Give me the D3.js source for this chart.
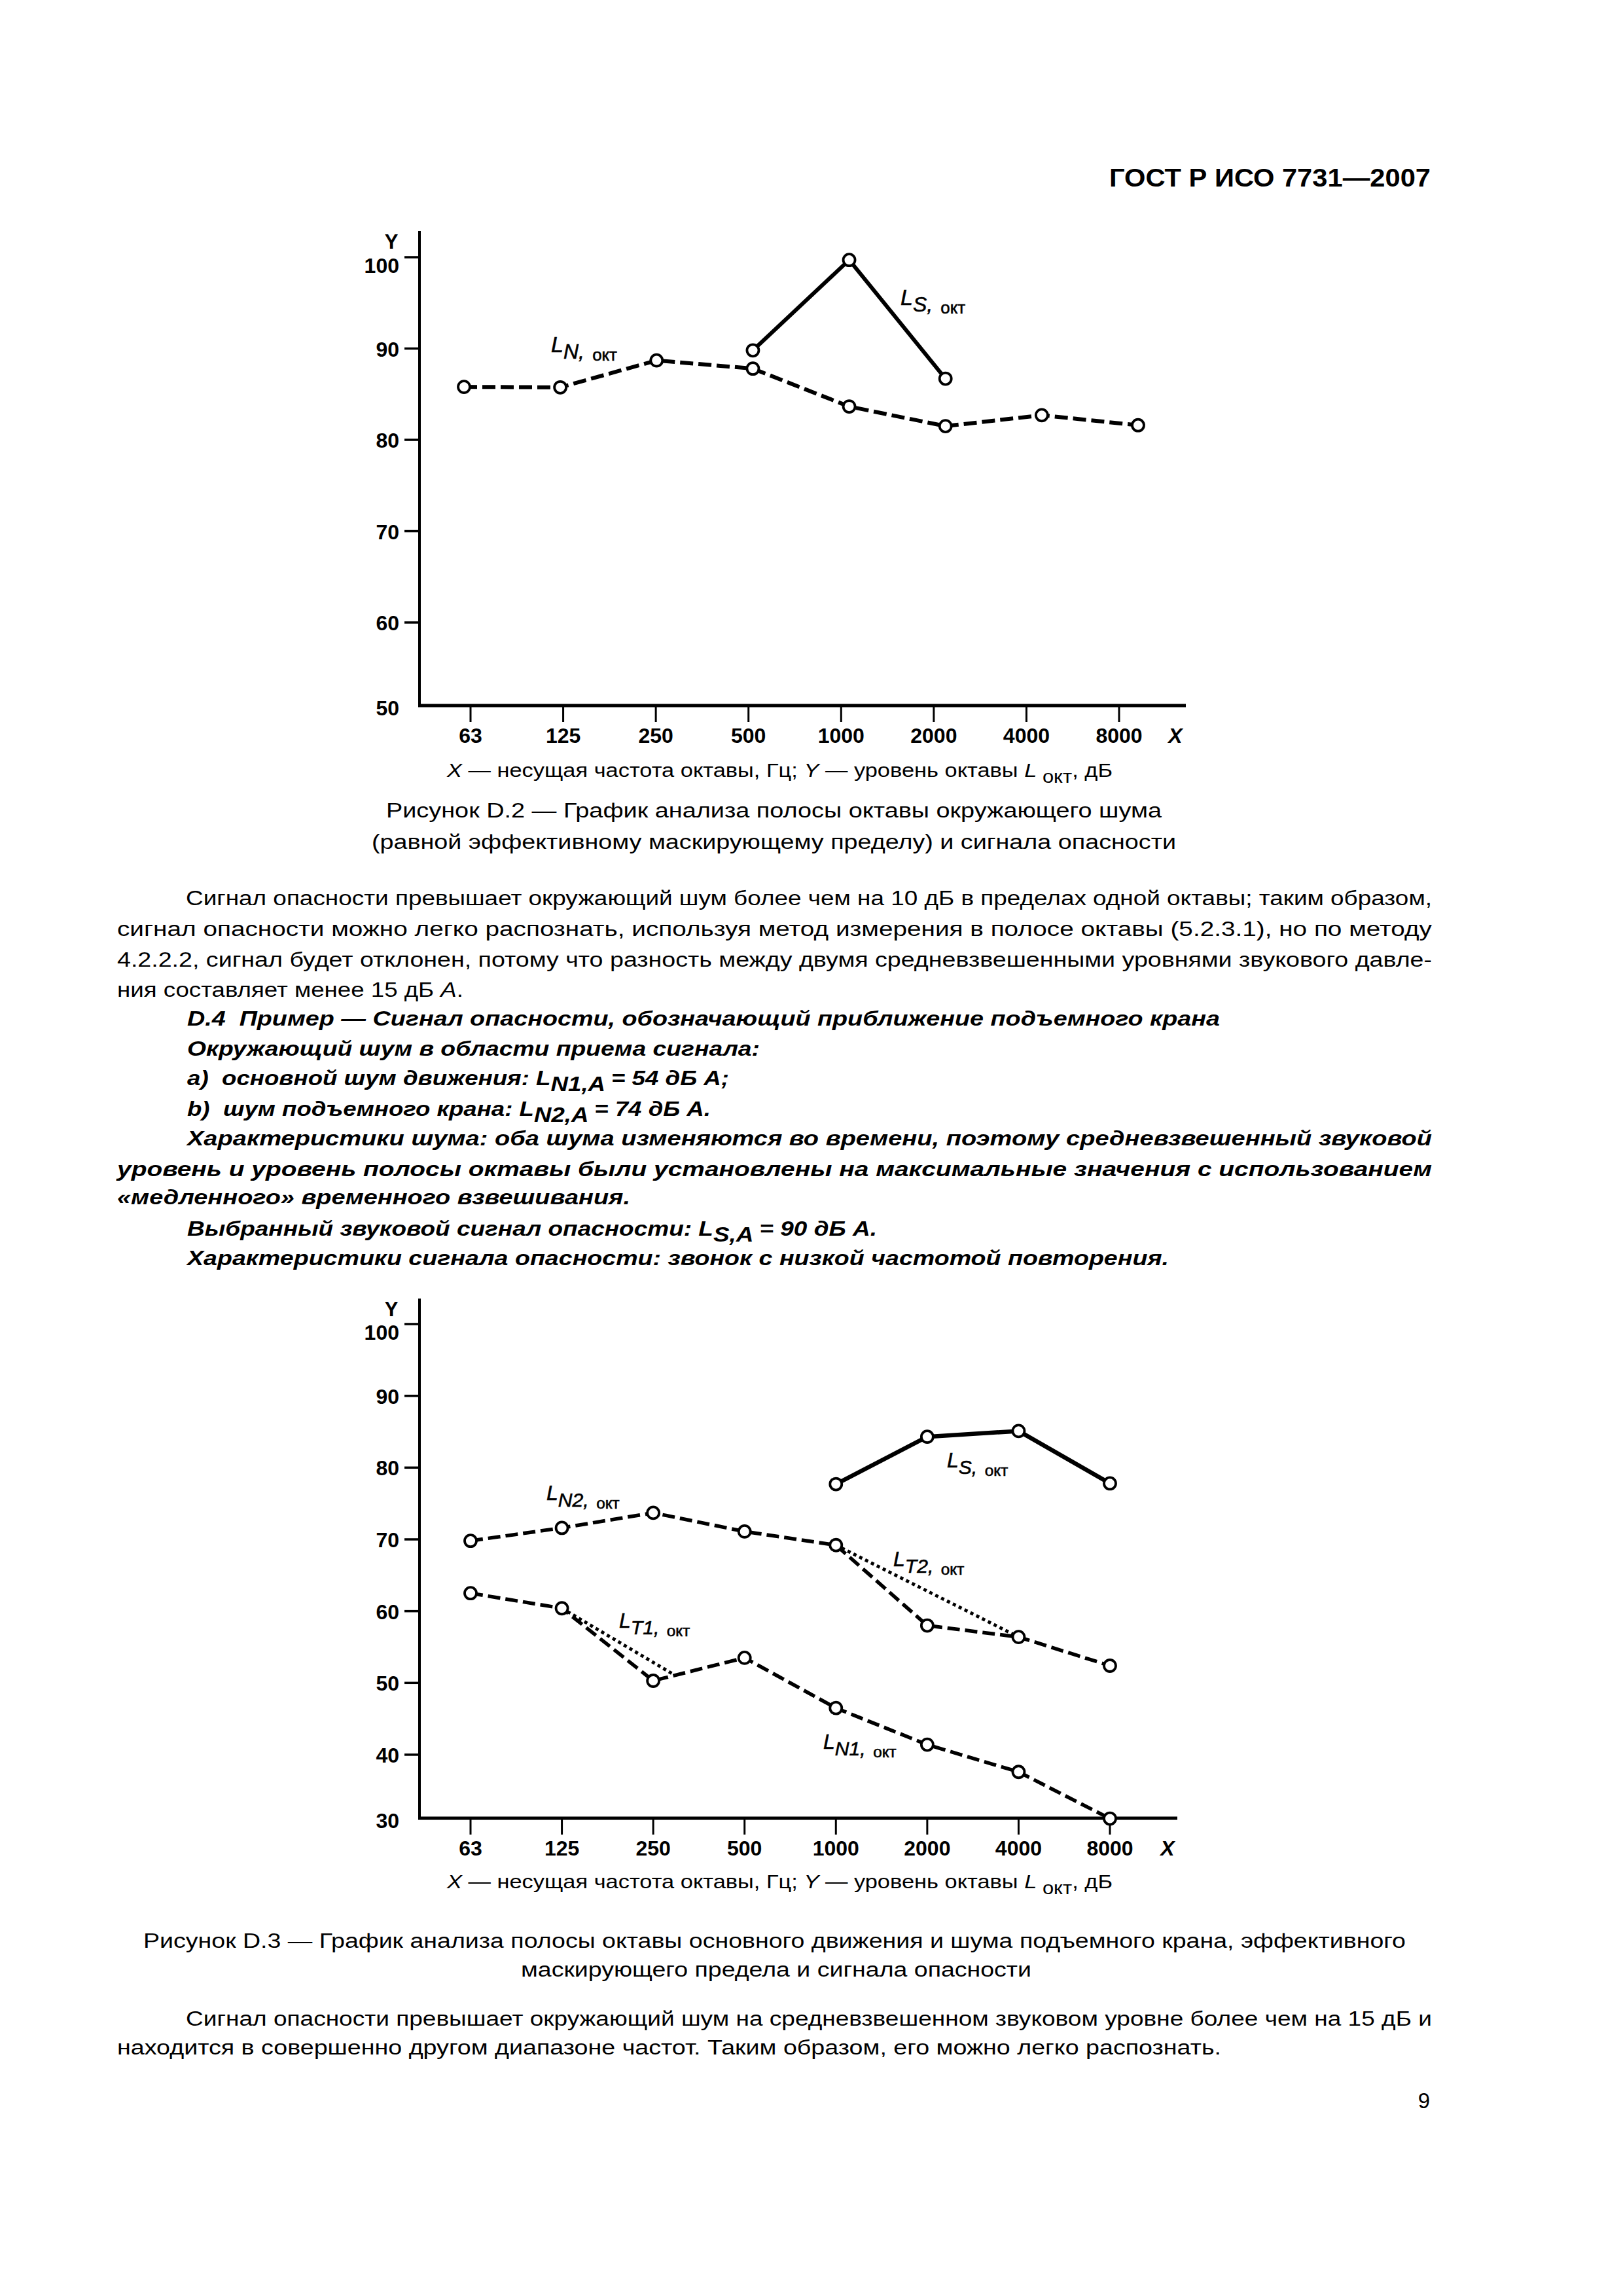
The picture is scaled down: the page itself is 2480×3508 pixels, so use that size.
<!DOCTYPE html>
<html><head><meta charset="utf-8">
<script src="https://cdn.jsdelivr.net/npm/d3@7"></script>
<style>html,body{margin:0;padding:0;background:#fff}</style>
</head><body>
<svg id="page" width="2480" height="3508" xmlns="http://www.w3.org/2000/svg"></svg>
<script>
// ---------- data ----------
const freqs = ["63", "125", "250", "500", "1000", "2000", "4000", "8000"];
const fig2YTicks = [50, 60, 70, 80, 90, 100];
const fig2Noise = [85.8, 85.75, 88.7, 87.8, 83.65, 81.5, 82.7, 81.6];
const fig2SignalFreqs = ["500", "1000", "2000"];
const fig2Signal = [89.8, 99.7, 86.7];

const fig3YTicks = [30, 40, 50, 60, 70, 80, 90, 100];
const fig3NoiseN2 = [69.8, 71.6, 73.7, 71.1, 69.2, 58.0, 56.4, 52.4];
const fig3NoiseN1 = [62.5, 60.4, 50.3, 53.5, 46.5, 41.4, 37.6, 31.1];
const fig3SignalFreqs = ["1000", "2000", "4000", "8000"];
const fig3Signal = [77.7, 84.3, 85.1, 77.8];
// masking thresholds: octave position (0 = 63 Hz) and level
const fig3T1Pos = [1, 2.22];
const fig3T1 = [60.4, 51.2];
const fig3T2Pos = [4, 6];
const fig3T2 = [69.2, 56.4];

// ---------- setup ----------
const FONT = "'Liberation Sans', Arial, Helvetica, sans-serif";
const svg = d3.select("#page");
svg.append("rect").attr("width", 2480).attr("height", 3508).attr("fill", "#fff");

function textLine(o) {
  const t = svg.append("text")
    .attr("x", o.x).attr("y", o.y)
    .attr("font-family", FONT)
    .attr("font-size", o.size || 31)
    .attr("font-weight", o.weight || "normal")
    .attr("font-style", o.style || "normal")
    .attr("text-anchor", o.anchor || "start")
    .attr("fill", "#000")
    .style("white-space", "pre");
  if (o.len) t.attr("textLength", o.len).attr("lengthAdjust", "spacingAndGlyphs");
  let shift = 0;
  o.parts.forEach(p => {
    if (typeof p === "string") p = { t: p };
    const ts = t.append("tspan").text(p.t);
    const target = p.sub ? 9 : 0;
    if (target !== shift) { ts.attr("dy", target - shift); shift = target; }
    if (p.i) ts.attr("font-style", "italic");
    if (p.up) ts.attr("font-style", "normal");
    if (p.size) ts.attr("font-size", p.size);
  });
  return t;
}

function seriesLabel(g, x, y, sub, size) {
  const t = g.append("text").attr("x", x).attr("y", y)
    .attr("font-family", FONT).attr("fill", "#000")
    .attr("stroke", "#000").attr("stroke-width", 0.6);
  t.append("tspan").attr("font-style", "italic").attr("font-size", size).text("L");
  t.append("tspan").attr("font-style", "italic").attr("font-size", size * 0.94).attr("dy", 10).text(sub);
  t.append("tspan").attr("font-size", size * 0.76).attr("dx", size * 0.36).attr("dy", 3).text("окт");
}

function drawChart(cfg) {
  const g = svg.append("g");
  const x = cfg.x, xm = cfg.xm, y = cfg.y;
  const [yBottom] = y.range();
  // axes
  g.append("line").attr("x1", cfg.axisX).attr("x2", cfg.axisX)
    .attr("y1", cfg.axisTop).attr("y2", yBottom + 2)
    .attr("stroke", "#000").attr("stroke-width", 4);
  g.append("line").attr("x1", cfg.axisX - 2).attr("x2", cfg.axisRight)
    .attr("y1", yBottom).attr("y2", yBottom)
    .attr("stroke", "#000").attr("stroke-width", 5);
  // y ticks
  cfg.yTicks.forEach(v => {
    const yy = Math.min(y(v), yBottom);
    if (yy < yBottom - 1) {
      g.append("line").attr("x1", cfg.axisX - 23).attr("x2", cfg.axisX)
        .attr("y1", yy).attr("y2", yy).attr("stroke", "#000").attr("stroke-width", 3.5);
    }
    const off = v === 100 ? 24 : (yy >= yBottom - 1 ? 15 : 12);
    g.append("text").attr("x", cfg.axisX - 31).attr("y", yy + off)
      .attr("text-anchor", "end").attr("font-family", FONT)
      .attr("font-size", 32).attr("font-weight", "bold").text(v);
  });
  // x ticks
  freqs.forEach((f, i) => {
    const xx = x(i);
    g.append("line").attr("x1", xx).attr("x2", xx)
      .attr("y1", yBottom).attr("y2", yBottom + 25)
      .attr("stroke", "#000").attr("stroke-width", 3);
    g.append("text").attr("x", xx).attr("y", yBottom + 57)
      .attr("text-anchor", "middle").attr("font-family", FONT)
      .attr("font-size", 32).attr("font-weight", "bold").text(f);
  });
  g.append("text").attr("x", cfg.xLabelX).attr("y", yBottom + 57)
    .attr("text-anchor", "middle").attr("font-family", FONT)
    .attr("font-size", 32).attr("font-weight", "bold").attr("font-style", "italic").text("X");
  g.append("text").attr("x", cfg.axisX - 43).attr("y", cfg.axisTop + 27)
    .attr("text-anchor", "middle").attr("font-family", FONT)
    .attr("font-size", 31).attr("font-weight", "bold").text("Y");

  const line = d3.line().x(d => xm(d[0])).y(d => y(d[1]));
  const marks = g.append("g");
  cfg.series.forEach(s => {
    const pts = s.pos.map((p, i) => [p, s.vals[i]]);
    marks.append("path").attr("d", line(pts))
      .attr("fill", "none").attr("stroke", "#000")
      .attr("stroke-width", s.width)
      .attr("stroke-dasharray", s.dash || null)
      .attr("stroke-linejoin", "round");
  });
  cfg.series.filter(s => s.points).forEach(s => {
    marks.selectAll(null).data(s.pos.map((p, i) => [p, s.vals[i]])).enter()
      .append("circle").attr("cx", d => xm(d[0])).attr("cy", d => y(d[1]))
      .attr("r", 9).attr("fill", "#fff").attr("stroke", "#000").attr("stroke-width", 3.8);
  });
  return g;
}

// ---------- Figure D.2 ----------
const idx = f => freqs.indexOf(f);
const g1 = drawChart({
  x: d3.scaleLinear().domain([0, 7]).range([719, 1710]),
  xm: d3.scaleLinear().domain([0, 7]).range([709, 1739]),
  y: d3.scaleLinear().domain([50.9, 100]).range([1078, 393]),
  axisX: 641, axisTop: 353, axisRight: 1812, xLabelX: 1796,
  yTicks: fig2YTicks,
  series: [
    { pos: freqs.map(idx), vals: fig2Noise, width: 6, dash: "20,8", points: true },
    { pos: fig2SignalFreqs.map(idx), vals: fig2Signal, width: 6, points: true }
  ]
});
seriesLabel(g1, 842, 538, "N,", 34);
seriesLabel(g1, 1376, 466, "S,", 34);

// ---------- Figure D.3 ----------
const x3 = d3.scaleLinear().domain([0, 7]).range([719, 1696]);
const g2 = drawChart({
  x: x3, xm: x3,
  y: d3.scaleLinear().domain([31.15, 100]).range([2778, 2023]),
  axisX: 641, axisTop: 1984, axisRight: 1799, xLabelX: 1784,
  yTicks: fig3YTicks,
  series: [
    { pos: fig3T1Pos, vals: fig3T1, width: 5, dash: "5,5" },
    { pos: fig3T2Pos, vals: fig3T2, width: 5, dash: "5,5" },
    { pos: freqs.map(idx), vals: fig3NoiseN2, width: 5.5, dash: "19,8", points: true },
    { pos: freqs.map(idx), vals: fig3NoiseN1, width: 5.5, dash: "19,8", points: true },
    { pos: fig3SignalFreqs.map(idx), vals: fig3Signal, width: 6.5, points: true }
  ]
});
seriesLabel(g2, 835, 2292, "N2,", 32);
seriesLabel(g2, 1447, 2242, "S,", 32);
seriesLabel(g2, 1365, 2393, "T2,", 32);
seriesLabel(g2, 946, 2487, "T1,", 32);
seriesLabel(g2, 1258, 2672, "N1,", 32);

// ---------- text ----------
textLine({ x: 1695, y: 285, len: 491, size: 38, weight: "bold", parts: ["ГОСТ Р ИСО 7731—2007"] });

const axisCaption = [{ t: "X", i: true }, " — несущая частота октавы, Гц; ", { t: "Y", i: true },
  " — уровень октавы ", { t: "L", i: true }, { t: " окт", sub: true, size: 27 }, ", дБ"];
textLine({ x: 683, y: 1187, len: 1017, size: 30, parts: axisCaption });
textLine({ x: 683, y: 2885, len: 1017, size: 30, parts: axisCaption });

textLine({ x: 590, y: 1249, len: 1185, parts: ["Рисунок D.2 — График анализа полосы октавы окружающего шума"] });
textLine({ x: 568, y: 1297, len: 1229, parts: ["(равной эффективному маскирующему пределу) и сигнала опасности"] });

textLine({ x: 284, y: 1383, len: 1904, parts: ["Сигнал опасности превышает окружающий шум более чем на 10 дБ в пределах одной октавы; таким образом,"] });
textLine({ x: 179, y: 1430, len: 2009, parts: ["сигнал опасности можно легко распознать, используя метод измерения в полосе октавы (5.2.3.1), но по методу"] });
textLine({ x: 179, y: 1477, len: 2009, parts: ["4.2.2.2, сигнал будет отклонен, потому что разность между двумя средневзвешенными уровнями звукового давле-"] });
textLine({ x: 179, y: 1523, len: 529, parts: ["ния составляет менее 15 дБ ", { t: "А", i: true }, "."] });

const BI = { weight: "bold", style: "italic" };
textLine({ ...BI, x: 286, y: 1567, len: 1578, parts: ["D.4\u00A0\u00A0Пример — Сигнал опасности, обозначающий приближение подъемного крана"] });
textLine({ ...BI, x: 286, y: 1613, len: 875, parts: ["Окружающий шум в области приема сигнала:"] });
textLine({ ...BI, x: 286, y: 1658, len: 828, parts: ["a)\u00A0\u00A0основной шум движения: L", { t: "N1,A", sub: true }, " = 54 дБ А;"] });
textLine({ ...BI, x: 286, y: 1705, len: 800, parts: ["b)\u00A0\u00A0шум подъемного крана: L", { t: "N2,A", sub: true }, " = 74 дБ А."] });
textLine({ ...BI, x: 286, y: 1750, len: 1902, parts: ["Характеристики шума: оба шума изменяются во времени, поэтому средневзвешенный звуковой"] });
textLine({ ...BI, x: 179, y: 1797, len: 2009, parts: ["уровень и уровень полосы октавы были установлены на максимальные значения с использованием"] });
textLine({ ...BI, x: 179, y: 1840, len: 784, parts: ["«медленного» временного взвешивания."] });
textLine({ ...BI, x: 286, y: 1888, len: 1054, parts: ["Выбранный звуковой сигнал опасности: L", { t: "S,A", sub: true }, " = 90 дБ А."] });
textLine({ ...BI, x: 286, y: 1933, len: 1500, parts: ["Характеристики сигнала опасности: звонок с низкой частотой повторения."] });

textLine({ x: 219, y: 2976, len: 1929, parts: ["Рисунок D.3 — График анализа полосы октавы основного движения и шума подъемного крана, эффективного"] });
textLine({ x: 796, y: 3020, len: 780, parts: ["маскирующего предела и сигнала опасности"] });

textLine({ x: 284, y: 3095, len: 1904, parts: ["Сигнал опасности превышает окружающий шум на средневзвешенном звуковом уровне более чем на 15 дБ и"] });
textLine({ x: 179, y: 3139, len: 1687, parts: ["находится в совершенно другом диапазоне частот. Таким образом, его можно легко распознать."] });

textLine({ x: 2176, y: 3221, anchor: "middle", size: 33, parts: ["9"] });
</script>
</body></html>
